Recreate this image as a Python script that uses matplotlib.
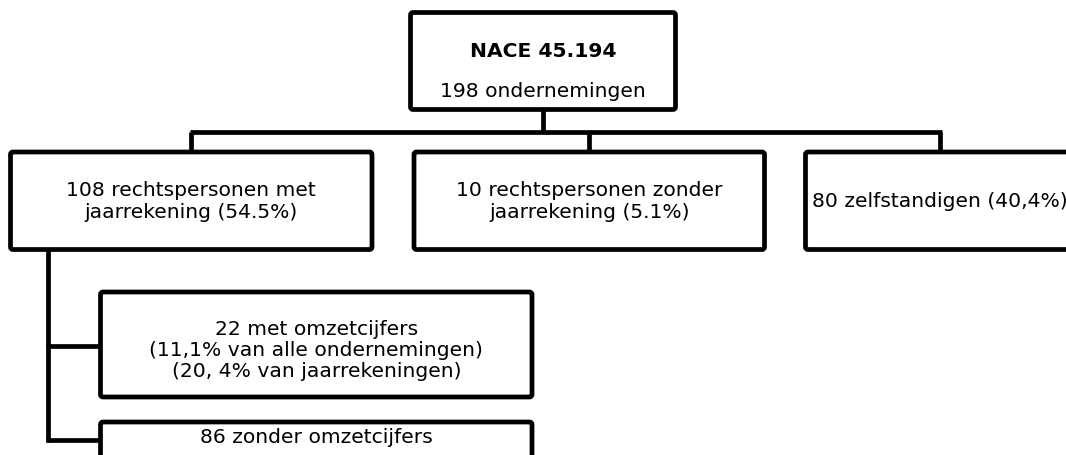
import matplotlib
matplotlib.use("Agg")
import matplotlib.pyplot as plt
from matplotlib.patches import FancyBboxPatch

# box labels (top → bottom)
root_title = "NACE 45.194"
root_sub = "198 ondernemingen"
level1_labels = [
    "108 rechtspersonen met\njaarrekening (54.5%)",
    "10 rechtspersonen zonder\njaarrekening (5.1%)",
    "80 zelfstandigen (40,4%)",
]
level2_labels = [
    "22 met omzetcijfers\n(11,1% van alle ondernemingen)\n(20, 4% van jaarrekeningen)",
    "86 zonder omzetcijfers",
]

# layout in pixel units (x0, y0, x1, y1), y grows downward
root_box = (410.5, 12.5, 675.5, 109.5)
level1_boxes = [(10.5, 152, 372, 249.5),
                (414, 152, 764.5, 249.5),
                (805.5, 152, 1074.5, 249.5)]
level2_boxes = [(100.5, 292, 532, 397),
                (100.5, 422, 532, 527)]
bus_y = 131.5
trunk_x = 47.5

LW = 3.4
FS = 14.6
INK = '#000000'

fig = plt.figure(figsize=(10.66, 4.55), dpi=100)
ax = fig.add_axes([0, 0, 1, 1])
ax.set_xlim(0, 1066)
ax.set_ylim(455, 0)
ax.axis('off')


def box(b):
    x0, y0, x1, y1 = b
    ax.add_patch(FancyBboxPatch((x0, y0), x1 - x0, y1 - y0,
                                boxstyle="round,pad=0,rounding_size=2.5",
                                lw=LW, edgecolor=INK, facecolor='white',
                                joinstyle='round', zorder=3))


def line(xs, ys):
    ax.plot(xs, ys, color=INK, lw=LW, solid_capstyle='butt',
            solid_joinstyle='round', zorder=2)


def cx(b):
    return (b[0] + b[2]) / 2


def cy(b):
    return (b[1] + b[3]) / 2


# connectors
line([cx(root_box)] * 2, [root_box[3], bus_y])
line([cx(level1_boxes[0]) - 1.5, cx(level1_boxes[-1]) + 1.5], [bus_y, bus_y])
for b in level1_boxes:
    line([cx(b)] * 2, [bus_y, b[1]])
branch_y = [cy(level2_boxes[0]) + 1.5, 440]
line([trunk_x, trunk_x], [level1_boxes[0][3], branch_y[-1] + 1.5])
for b, yy in zip(level2_boxes, branch_y):
    line([trunk_x - 1.5, b[0]], [yy, yy])

# boxes
box(root_box)
for b in level1_boxes + level2_boxes:
    box(b)

# text
ax.text(cx(root_box), 57, root_title, fontsize=FS, fontweight='semibold',
        ha='center', va='baseline', zorder=4)
ax.text(cx(root_box), 97, root_sub, fontsize=FS,
        ha='center', va='baseline', zorder=4)
for b, lab in zip(level1_boxes, level1_labels):
    ax.text(cx(b), cy(b) + 1, lab, fontsize=FS, ha='center', va='center',
            linespacing=1.2, zorder=4)
ax.text(cx(level2_boxes[0]), cy(level2_boxes[0]) + 6, level2_labels[0],
        fontsize=FS, ha='center', va='center', linespacing=1.12, zorder=4)
ax.text(cx(level2_boxes[1]), 443, level2_labels[1], fontsize=FS,
        ha='center', va='baseline', zorder=4)

fig.savefig('out.png', dpi=100, facecolor='white')
